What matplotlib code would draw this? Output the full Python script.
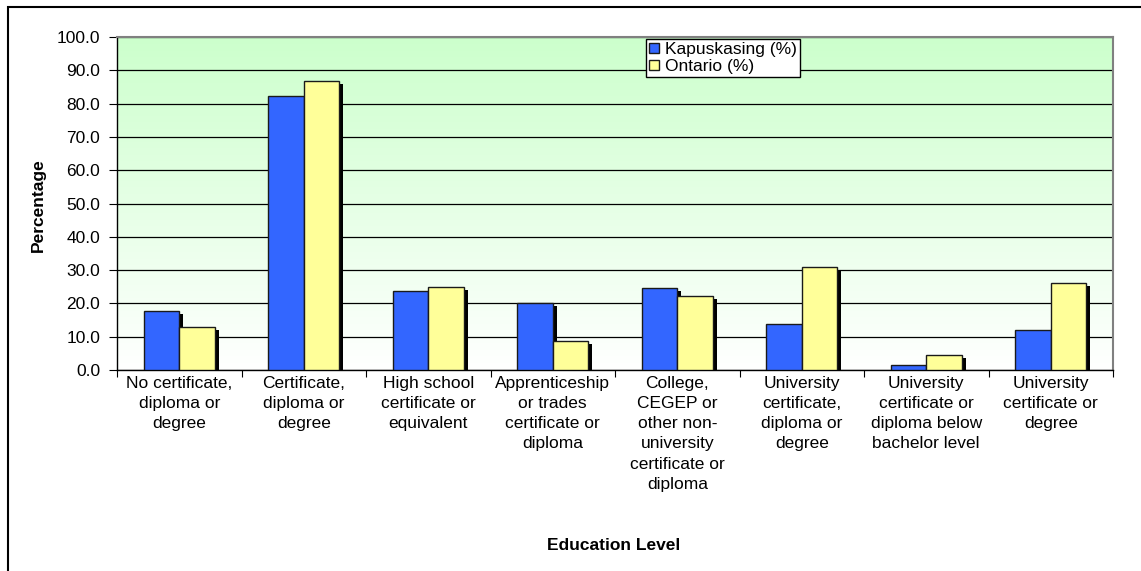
import numpy as np
import matplotlib
matplotlib.use('Agg')
import matplotlib.pyplot as plt
import matplotlib.patheffects as pe
from matplotlib.patches import Rectangle

plt.rcParams['font.family'] = ['Liberation Sans', 'DejaVu Sans']

categories = ['No certificate,\ndiploma or\ndegree',
              'Certificate,\ndiploma or\ndegree',
              'High school\ncertificate or\nequivalent',
              'Apprenticeship\nor trades\ncertificate or\ndiploma',
              'College,\nCEGEP or\nother non-\nuniversity\ncertificate or\ndiploma',
              'University\ncertificate,\ndiploma or\ndegree',
              'University\ncertificate or\ndiploma below\nbachelor level',
              'University\ncertificate or\ndegree']
kapuskasing = [17.6, 82.3, 23.7, 20.1, 24.6, 13.9, 1.5, 11.9]
ontario = [13.0, 86.9, 25.0, 8.6, 22.1, 30.8, 4.4, 26.2]

W, H = 1141, 571
FS = 12.5
fig = plt.figure(figsize=(W / 100, H / 100), dpi=100)
ax = fig.add_axes([117 / W, 1 - 370 / H, (1113 - 117) / W, (370 - 37) / H])

# vertical green -> white gradient behind the bars
grad = np.linspace(0, 1, 256).reshape(-1, 1)
top = np.array([0.8, 1.0, 0.8])
cols = (top * grad[..., None] + (1 - grad[..., None]) * 1.0)
ax.imshow(cols, extent=[0, len(categories), 0, 100], origin='lower',
          aspect='auto', zorder=0)

x = np.arange(len(categories)) + 0.5
bw = 0.285
shadow = [pe.SimplePatchShadow(offset=(3, -2.2), shadow_rgbFace='black', alpha=1.0),
          pe.Normal()]
b1 = ax.bar(x - bw / 2, kapuskasing, bw, color='#3366FF', edgecolor='#1a1a1a',
            lw=1, zorder=3, label='Kapuskasing (%)', path_effects=shadow)
b2 = ax.bar(x + bw / 2, ontario, bw, color='#FFFF99', edgecolor='#1a1a1a',
            lw=1, zorder=3, label='Ontario (%)', path_effects=shadow)

ax.set_xlim(0, len(categories))
ax.set_ylim(0, 100)
ax.set_yticks(np.arange(0, 101, 10))
ax.set_yticklabels([f'{v:.1f}' for v in np.arange(0, 101, 10)], fontsize=FS)
ax.yaxis.grid(True, color='black', lw=0.9, zorder=1)
ax.set_axisbelow(True)
ax.set_xticks(np.arange(0, len(categories) + 1), minor=False)
ax.set_xticklabels([])
ax.set_xticks(x, minor=True)
ax.set_xticklabels(categories, minor=True, fontsize=FS, linespacing=1.44)
ax.tick_params(axis='x', which='minor', length=0, pad=4)
ax.tick_params(axis='x', which='major', length=5, width=0.8)
ax.tick_params(axis='y', length=6, width=0.8, pad=6)
for s in ['top', 'right']:
    ax.spines[s].set_color('#808080')
    ax.spines[s].set_lw(1.5)
for s in ['left', 'bottom']:
    ax.spines[s].set_color('black')
    ax.spines[s].set_lw(1)

fig.text(38 / W, 1 - 205 / H, 'Percentage', rotation=90, fontsize=FS,
         fontweight='bold', ha='center', va='center')
fig.text(614 / W, 1 - 545 / H, 'Education Level', fontsize=FS,
         fontweight='bold', ha='center', va='center')

leg = ax.legend(handles=[b1, b2], loc='upper left', bbox_to_anchor=(0.531, 0.995),
                fontsize=FS, frameon=True, fancybox=False, edgecolor='black',
                framealpha=1, borderpad=0.2, labelspacing=0.1,
                handlelength=0.55, handleheight=0.55, handletextpad=0.35,
                borderaxespad=0)
leg.get_frame().set_linewidth(1)
for h in leg.legend_handles:
    h.set_path_effects([])

# outer chart frame (cropped at right and bottom)
fig.patches.append(Rectangle((8 / W, -0.1), 1.2, 1 - 7 / H + 0.1, fill=False,
                             edgecolor='black', lw=1.5, transform=fig.transFigure))

fig.savefig('out.png', dpi=100, facecolor='white')
